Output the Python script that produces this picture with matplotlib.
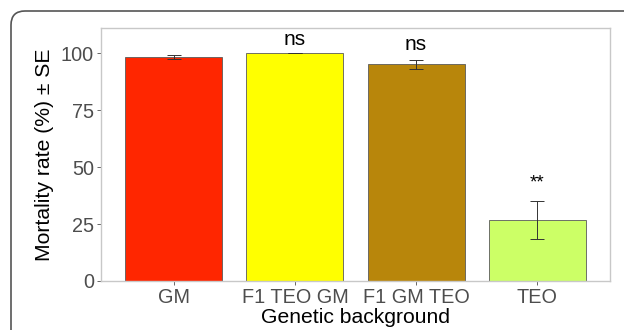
import matplotlib.pyplot as plt
from matplotlib.path import Path
from matplotlib.patches import PathPatch

plt.rcParams['font.family'] = ['Liberation Sans', 'DejaVu Sans']

# data
groups = ["GM", "F1 TEO GM", "F1 GM TEO", "TEO"]
mortality = [98.3, 100.0, 95.0, 26.7]
se = [0.9, 0.0, 2.0, 8.4]
signif = ["", "ns", "ns", "**"]
signif_y = [None, 105.8, 103.6, 43.0]
colors = ["#FF2600", "#FFFF00", "#B8860B", "#CCFF66"]

W, H = 624, 330
fig = plt.figure(figsize=(W / 100, H / 100), dpi=100)

# frame with a rounded top-left corner, running off the right and bottom edges
x0, y0, r = 11, 11, 14
verts = [(x0, H + 20), (x0, y0 + r), (x0, y0), (x0 + r, y0), (W + 20, y0)]
codes = [Path.MOVETO, Path.LINETO, Path.CURVE3, Path.CURVE3, Path.LINETO]
verts = [(vx / W, 1 - vy / H) for vx, vy in verts]
frame = PathPatch(Path(verts, codes), transform=fig.transFigure, fill=False,
                  edgecolor="#555555", linewidth=1.2, clip_on=False)
fig.patches.append(frame)

ax = fig.add_axes([101 / W, 1 - 281 / H, 509 / W, 253 / H])

x = list(range(1, len(groups) + 1))
ax.bar(x, mortality, width=0.8, color=colors, edgecolor="#5a5a5a", linewidth=0.6)
ax.errorbar(x, mortality, yerr=se, fmt="none", ecolor="#333333",
            elinewidth=0.7, capsize=5, capthick=0.7)

for xi, lab, yy in zip(x, signif, signif_y):
    if lab:
        ax.text(xi, yy, lab, ha="center", va="center",
                fontsize=15 if lab == "ns" else 13.5, color="black")

ax.set_xlim(0.4, 4.6)
ax.set_ylim(0, 111)
ax.set_xticks(x)
ax.set_xticklabels(groups)
ax.set_yticks([0, 25, 50, 75, 100])

for s in ax.spines.values():
    s.set_color("#c8c8c8")
    s.set_linewidth(1.0)

ax.tick_params(axis="both", colors="#4d4d4d", labelsize=14.3, length=3,
               width=0.6, pad=2)

ax.set_xlabel("Genetic background", fontsize=15.2, color="black", labelpad=1)
ax.set_ylabel("Mortality rate (%) ± SE", fontsize=15.2, color="black",
              labelpad=5)

fig.savefig("out.png", dpi=100)
